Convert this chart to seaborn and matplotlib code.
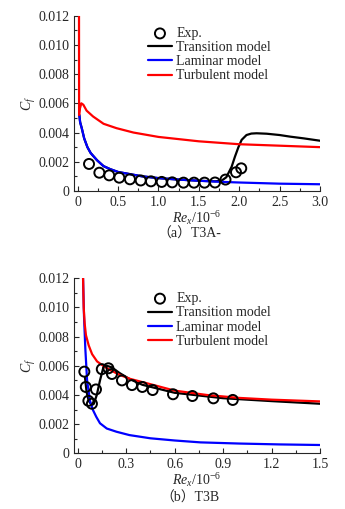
# %% libraries
import matplotlib
matplotlib.use("Agg")
import matplotlib.pyplot as plt
import seaborn as sns
from matplotlib.ticker import MultipleLocator, FuncFormatter

# %% data (Re_x / 10^6, Cf)
# (a) T3A-
a_exp_x = [0.14, 0.268, 0.39, 0.515, 0.647, 0.78, 0.907, 1.04, 1.17, 1.31,
           1.44, 1.57, 1.70, 1.83, 1.96, 2.025]
a_exp_y = [0.00185, 0.00125, 0.00107, 0.00091, 0.0008, 0.00072, 0.00066,
           0.00062, 0.00059, 0.00057, 0.00057, 0.00057, 0.00058, 0.00078,
           0.00128, 0.00155]

a_trans_x = [0.02, 0.03, 0.05, 0.08, 0.12, 0.16, 0.24, 0.32, 0.4, 0.5, 0.65,
             0.8, 1.0, 1.25, 1.5, 1.7, 1.78, 1.84, 1.906, 1.947, 1.99, 2.03,
             2.09, 2.15, 2.215, 2.34, 2.5, 2.63, 2.8, 3.0]
a_trans_y = [0.0052, 0.0047, 0.0043, 0.0036, 0.003, 0.0026, 0.0021, 0.0017,
             0.0015, 0.0013, 0.00115, 0.001, 0.00088, 0.00078, 0.0007,
             0.00066, 0.0007, 0.00094, 0.00166, 0.00235, 0.003, 0.0035,
             0.00383, 0.00393, 0.00395, 0.00392, 0.00383, 0.00372, 0.0036,
             0.00344]

a_lam_x = [0.02, 0.03, 0.05, 0.08, 0.12, 0.16, 0.24, 0.32, 0.4, 0.5, 0.65,
           0.8, 1.0, 1.25, 1.5, 1.75, 2.0, 2.5, 3.0]
a_lam_y = [0.0052, 0.0047, 0.0043, 0.0036, 0.003, 0.0026, 0.0021, 0.0017,
           0.0015, 0.0013, 0.00115, 0.001, 0.00088, 0.00078, 0.0007,
           0.00063, 0.00058, 0.0005, 0.00046]

a_turb_x = [0.016, 0.017, 0.025, 0.045, 0.07, 0.11, 0.19, 0.32, 0.48, 0.69,
            1.0, 1.5, 2.0, 2.5, 3.0]
a_turb_y = [0.012, 0.0052, 0.0056, 0.006, 0.0059, 0.0055, 0.0051, 0.0046,
            0.0043, 0.004, 0.0037, 0.0034, 0.0032, 0.0031, 0.003]

# (b) T3B
b_exp_x = [0.041, 0.05, 0.066, 0.088, 0.113, 0.149, 0.19, 0.212, 0.274,
           0.336, 0.40, 0.464, 0.59, 0.71, 0.84, 0.96]
b_exp_y = [0.0056, 0.00455, 0.0036, 0.0034, 0.00438, 0.00577, 0.00583,
           0.00544, 0.005, 0.00468, 0.00455, 0.00434, 0.00405, 0.00393,
           0.00377, 0.00366]

b_trans_x = [0.045, 0.055, 0.068, 0.087, 0.1, 0.118, 0.138, 0.159, 0.18,
             0.21, 0.26, 0.32, 0.4, 0.6, 0.9, 1.2, 1.5]
b_trans_y = [0.0052, 0.0042, 0.0036, 0.0033, 0.0034, 0.004, 0.005, 0.0059,
             0.006, 0.0059, 0.0055, 0.0051, 0.0047, 0.00415, 0.00378,
             0.00358, 0.0034]

b_lam_x = [0.033, 0.039, 0.047, 0.058, 0.076, 0.093, 0.115, 0.138, 0.18,
           0.24, 0.32, 0.45, 0.6, 0.76, 1.0, 1.25, 1.5]
b_lam_y = [0.012, 0.0094, 0.0072, 0.005, 0.0036, 0.003, 0.0025, 0.00206,
           0.0017, 0.00148, 0.00125, 0.00103, 0.00088, 0.00075, 0.00067,
           0.00061, 0.00057]

b_turb_x = [0.033, 0.037, 0.043, 0.051, 0.068, 0.089, 0.12, 0.171, 0.254,
            0.326, 0.43, 0.6, 0.8, 1.0, 1.2, 1.5]
b_turb_y = [0.0121, 0.01, 0.0089, 0.0081, 0.0074, 0.0068, 0.0063, 0.0059,
            0.0054, 0.0051, 0.0048, 0.0043, 0.004, 0.0038, 0.00368, 0.00356]

labels = ["Exp.", "Transition model", "Laminar model", "Turbulent model"]
captions = ["\uff08a\uff09T3A-", "\uff08b\uff09T3B"]

# %% style
sns.set_style("ticks")
plt.rcParams["font.family"] = ["Liberation Serif", "Noto Sans CJK SC"]
plt.rcParams["mathtext.fontset"] = "custom"
plt.rcParams["mathtext.rm"] = "Liberation Serif"
plt.rcParams["mathtext.it"] = "Liberation Serif:italic"
plt.rcParams["font.size"] = 10

fig = plt.figure(figsize=(3.45, 5.09), dpi=100)
ax_a = fig.add_axes([0.2145, 0.6248, 0.713, 0.3444])
ax_b = fig.add_axes([0.2145, 0.1094, 0.713, 0.3438])


def draw(ax, ex, ey, tx, ty, lx, ly, ux, uy, anchor_y):
    sns.lineplot(x=tx, y=ty, ax=ax, color="black", lw=1.6, sort=False,
                 estimator=None, label=labels[1])
    sns.lineplot(x=lx, y=ly, ax=ax, color="#0000ff", lw=1.6, sort=False,
                 estimator=None, label=labels[2])
    sns.lineplot(x=ux, y=uy, ax=ax, color="#ff0000", lw=1.6, sort=False,
                 estimator=None, label=labels[3])
    sns.scatterplot(x=ex, y=ey, ax=ax, marker="o", s=52, facecolor="none",
                    edgecolor="black", linewidth=1.4, zorder=5,
                    label=labels[0])
    handles, labs = ax.get_legend_handles_labels()
    order = [labs.index(l) for l in labels]
    ax.legend([handles[i] for i in order], [labs[i] for i in order],
              loc="upper left", bbox_to_anchor=(0.30, anchor_y),
              frameon=False, fontsize=10, handlelength=1.75,
              handletextpad=0.3, labelspacing=0.08, borderpad=0,
              borderaxespad=0)
    ax.set_ylim(0, 0.012)
    ax.yaxis.set_major_locator(MultipleLocator(0.002))
    ax.yaxis.set_minor_locator(MultipleLocator(0.001))
    ax.yaxis.set_major_formatter(
        FuncFormatter(lambda v, p: "0" if abs(v) < 1e-9 else f"{v:.3f}"))
    ax.tick_params(which="both", direction="in", width=0.8, labelsize=10)
    ax.tick_params(which="major", length=3.5)
    ax.tick_params(which="minor", length=2)
    sns.despine(ax=ax)
    ax.set_ylabel("$C_f$", fontsize=10, labelpad=0)
    ax.set_xlabel("$Re_x$/10$^{-6}$", fontsize=10, labelpad=0)


# %% (a) T3A-
draw(ax_a, a_exp_x, a_exp_y, a_trans_x, a_trans_y, a_lam_x, a_lam_y,
     a_turb_x, a_turb_y, 0.935)
ax_a.set_xlim(-0.046, 3.0)
ax_a.xaxis.set_major_locator(MultipleLocator(0.5))
ax_a.xaxis.set_minor_locator(MultipleLocator(0.25))
ax_a.xaxis.set_major_formatter(
    FuncFormatter(lambda v, p: "0" if abs(v) < 1e-9 else f"{v:.1f}"))

# %% (b) T3B
draw(ax_b, b_exp_x, b_exp_y, b_trans_x, b_trans_y, b_lam_x, b_lam_y,
     b_turb_x, b_turb_y, 0.92)
ax_b.set_xlim(-0.023, 1.5)
ax_b.xaxis.set_major_locator(MultipleLocator(0.3))
ax_b.xaxis.set_minor_locator(MultipleLocator(0.15))
ax_b.xaxis.set_major_formatter(
    FuncFormatter(lambda v, p: "0" if abs(v) < 1e-9 else f"{v:.1f}"))

# %% captions
fig.text(0.55, 0.540, captions[0], ha="center", va="center", fontsize=10)
fig.text(0.55, 0.0216, captions[1], ha="center", va="center", fontsize=10)

fig.savefig("out.png", dpi=100)
